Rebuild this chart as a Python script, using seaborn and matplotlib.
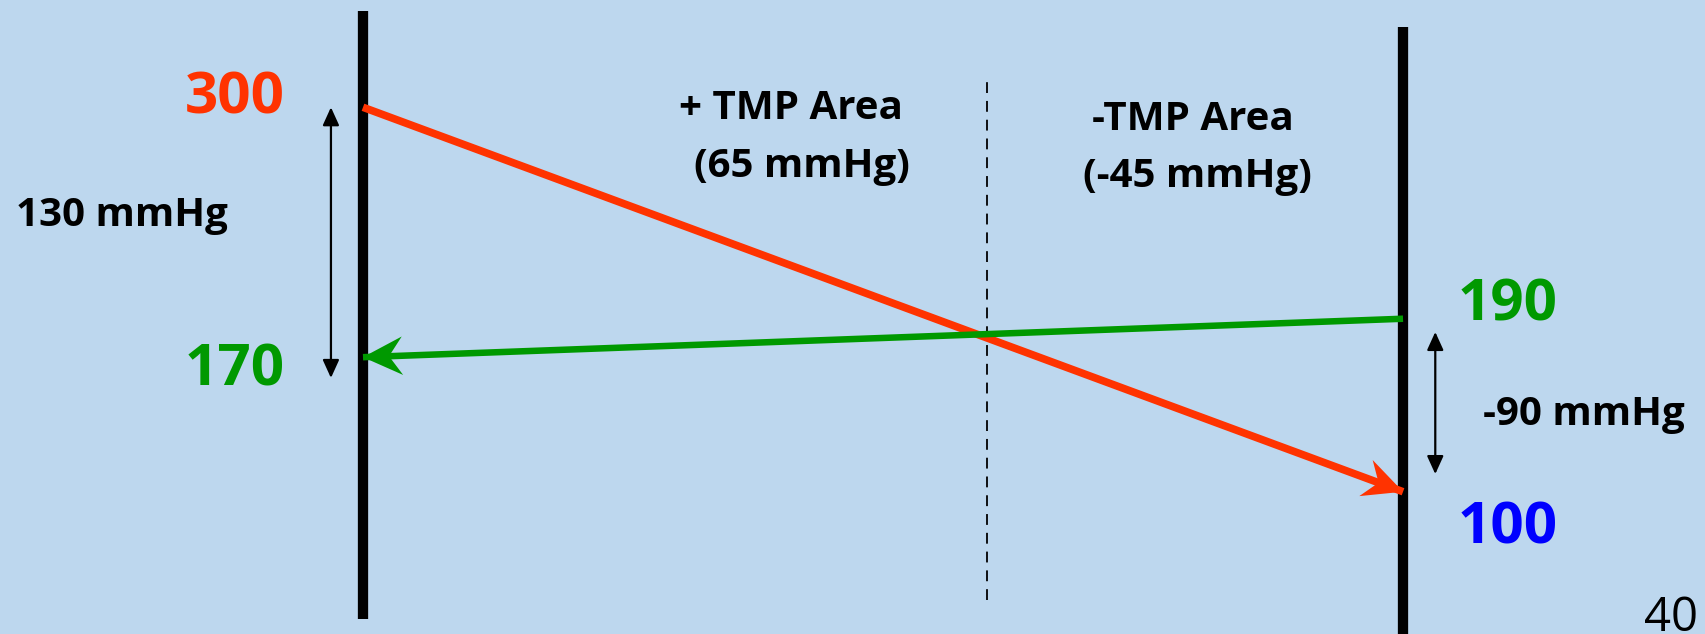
import numpy as np
import pandas as pd
import matplotlib
matplotlib.use("Agg")
import matplotlib.pyplot as plt
import seaborn as sns

# ---------------- data ----------------
wall_x = [0.0, 1.0]                 # inlet wall, outlet wall
blood_pressure = [300, 100]         # red line (left -> right)
dialysate_pressure = [170, 190]     # green line (right -> left)
crossover_x = 0.6                   # dashed divider
area_titles = ["+ TMP Area", "-TMP Area"]
page_number = "40"

inlet_tmp = blood_pressure[0] - dialysate_pressure[0]     # 130
outlet_tmp = blood_pressure[1] - dialysate_pressure[1]    # -90
area_values = [inlet_tmp / 2, outlet_tmp / 2]              # 65, -45

# ---------------- style ----------------
BG = "#BDD7EE"
RED = "#FF3300"
GREEN = "#009900"
BLUE = "#0000FF"

sns.set_theme(style="white")
plt.rcParams["font.family"] = ["Open Sans", "DejaVu Sans"]

fig = plt.figure(figsize=(17.06, 6.34), dpi=100, facecolor=BG)
ax = fig.add_axes([0, 0, 1, 1])
ax.set_facecolor(BG)
ax.set_xlim(-0.349, 1.2913)
ax.set_ylim(26.0, 355.8)
ax.axis("off")

df_blood = pd.DataFrame({"x": wall_x, "pressure": blood_pressure})
df_dial = pd.DataFrame({"x": wall_x, "pressure": dialysate_pressure})

# walls
ax.axvline(wall_x[0], ymin=0.0237, ymax=0.9826, color="black", lw=7.4, zorder=2,
           solid_capstyle="butt")
ax.axvline(wall_x[1], ymin=0.0, ymax=0.957, color="black", lw=7.4, zorder=2,
           solid_capstyle="butt")

# dashed divider
ax.axvline(crossover_x, ymin=0.054, ymax=0.882, color="black", lw=1.3,
           linestyle=(0, (6.0, 4.4)), zorder=1)

# lines
sns.lineplot(data=df_blood, x="x", y="pressure", color=RED, lw=5.5, ax=ax,
             zorder=3, legend=False)
sns.lineplot(data=df_dial, x="x", y="pressure", color=GREEN, lw=4.7, ax=ax,
             zorder=3, legend=False)
for l in ax.lines[-2:]:
    l.set_solid_capstyle("butt")

fig.canvas.draw()


def stealth_head(x_from, y_from, x_tip, y_tip, color, length=39.5, width=38.5,
                 notch=0.66):
    p0 = ax.transData.transform((x_from, y_from))
    p1 = ax.transData.transform((x_tip, y_tip))
    u = (p1 - p0) / np.linalg.norm(p1 - p0)
    n = np.array([-u[1], u[0]])
    pts = np.array([
        p1,
        p1 - length * u + width / 2 * n,
        p1 - notch * length * u,
        p1 - length * u - width / 2 * n,
    ])
    d = ax.transData.inverted().transform(pts)
    ax.fill(d[:, 0], d[:, 1], color=color, lw=0, zorder=4)


stealth_head(wall_x[0], blood_pressure[0], wall_x[1], blood_pressure[1], RED)
stealth_head(wall_x[1], dialysate_pressure[1], wall_x[0], dialysate_pressure[0], GREEN)

# double-headed measurement arrows
arrow_kw = dict(arrowstyle="<|-|>,head_length=11,head_width=5", mutation_scale=1,
                lw=1.6, color="black", shrinkA=0, shrinkB=0)
ax.annotate("", xy=(-0.0308, 300.0), xytext=(-0.0308, 159.2), arrowprops=arrow_kw)
ax.annotate("", xy=(1.031, 183.1), xytext=(1.031, 109.2), arrowprops=arrow_kw)

# texts
big = dict(fontsize=42, fontweight="bold", va="baseline")
mid = dict(fontsize=29, fontweight="bold", va="baseline", color="black")

ax.text(-0.075, 296.5, f"{blood_pressure[0]}", ha="right", color=RED, **big)
ax.text(-0.075, 155.5, f"{dialysate_pressure[0]}", ha="right", color=GREEN, **big)
ax.text(1.052, 189.0, f"{dialysate_pressure[1]}", ha="left", color=GREEN, **big)
ax.text(1.052, 72.9, f"{blood_pressure[1]}", ha="left", color=BLUE, **big)

ax.text(-0.3337, 238.0, f"{inlet_tmp} mmHg", ha="left", **mid)
ax.text(1.077, 134.9, f"{outlet_tmp} mmHg", ha="left", **mid)

ax.text(0.4115, 293.8, area_titles[0], ha="center", **mid)
ax.text(0.422, 263.9, f"({area_values[0]:.0f} mmHg)", ha="center", **mid)
ax.text(0.798, 288.1, area_titles[1], ha="center", **mid)
ax.text(0.802, 258.7, f"({area_values[1]:.0f} mmHg)", ha="center", **mid)

ax.text(1.2837, 27.5, page_number, ha="right", va="baseline", fontsize=34,
        color="black")

fig.savefig("out.png", dpi=100, facecolor=BG)
